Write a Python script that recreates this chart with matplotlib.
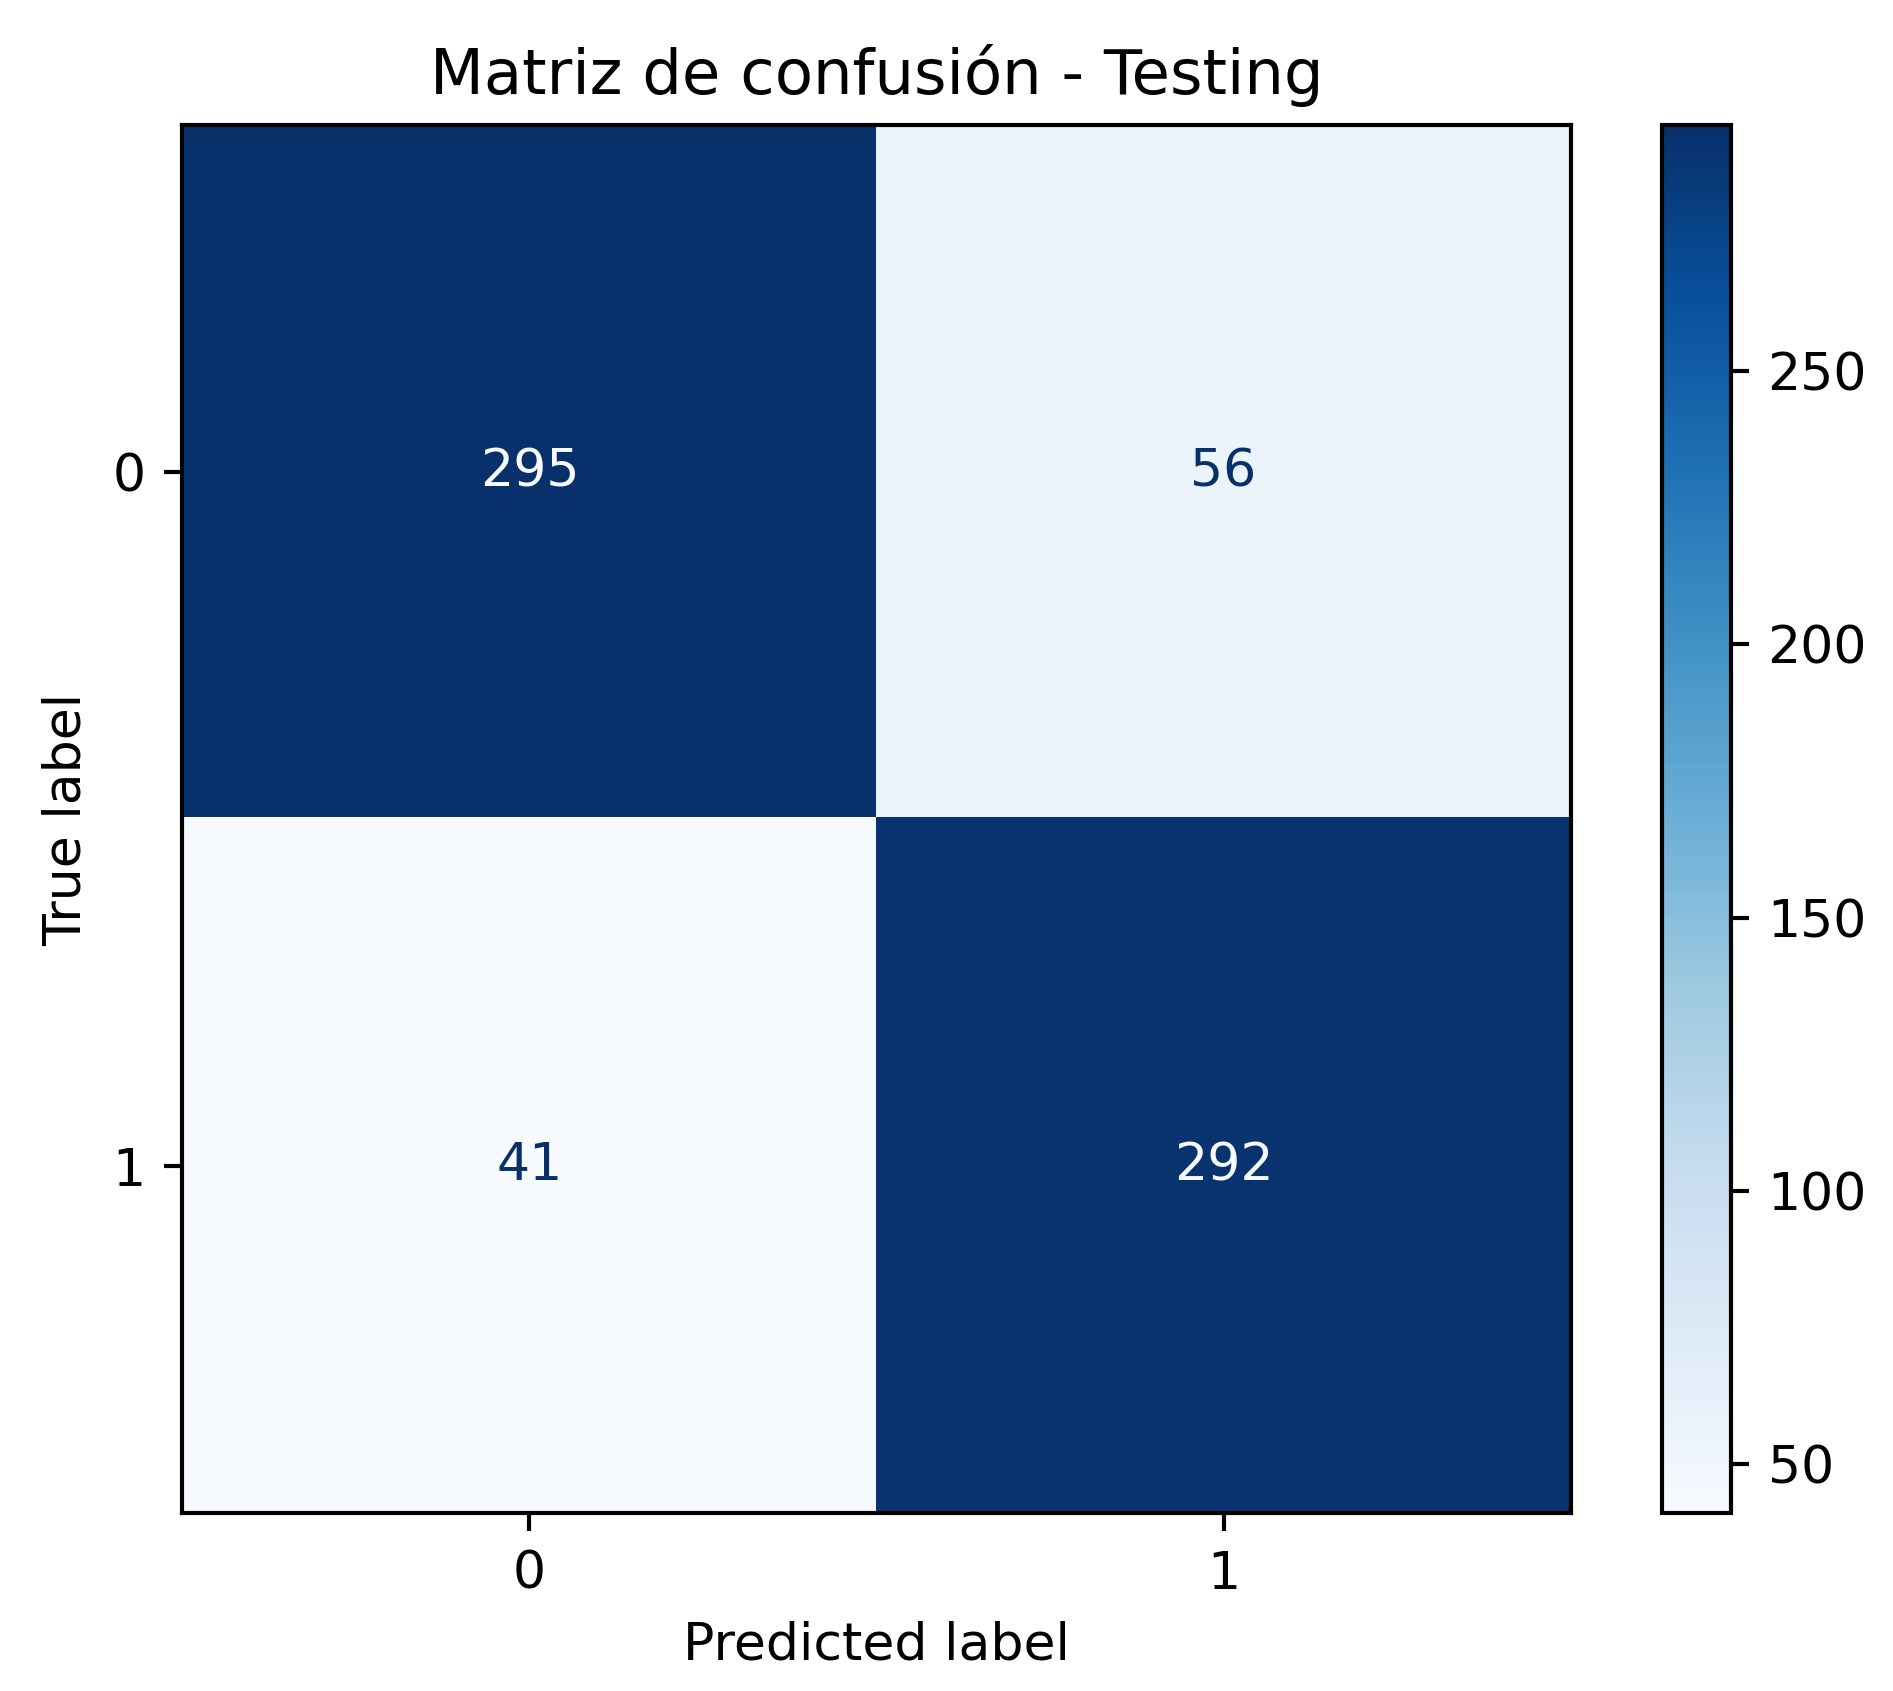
import matplotlib
matplotlib.use("Agg")
import matplotlib.pyplot as plt
import numpy as np

labels = ["0", "1"]
cm = np.array([[295, 56], [41, 292]])

fig = plt.figure(figsize=(1893/375, 1691/375), dpi=375)
ax = fig.add_axes([0.096, 0.105, 0.734, 0.821])
cax = fig.add_axes([0.878, 0.105, 0.0365, 0.821])
cmap = plt.get_cmap("Blues")
im = ax.imshow(cm, cmap=cmap, interpolation="nearest")
thresh = (cm.max() + cm.min()) / 2.0
for i in range(2):
    for j in range(2):
        c = cmap(0.0) if cm[i, j] > thresh else cmap(1.0)
        ax.text(j, i, str(cm[i, j]), ha="center", va="center", color=c)
fig.colorbar(im, cax=cax)
ax.set_xticks(range(2), labels)
ax.set_yticks(range(2), labels)
ax.set_xlabel("Predicted label")
ax.set_ylabel("True label")
ax.set_title("Matriz de confusión - Testing")
fig.savefig("out.png", dpi=375)
